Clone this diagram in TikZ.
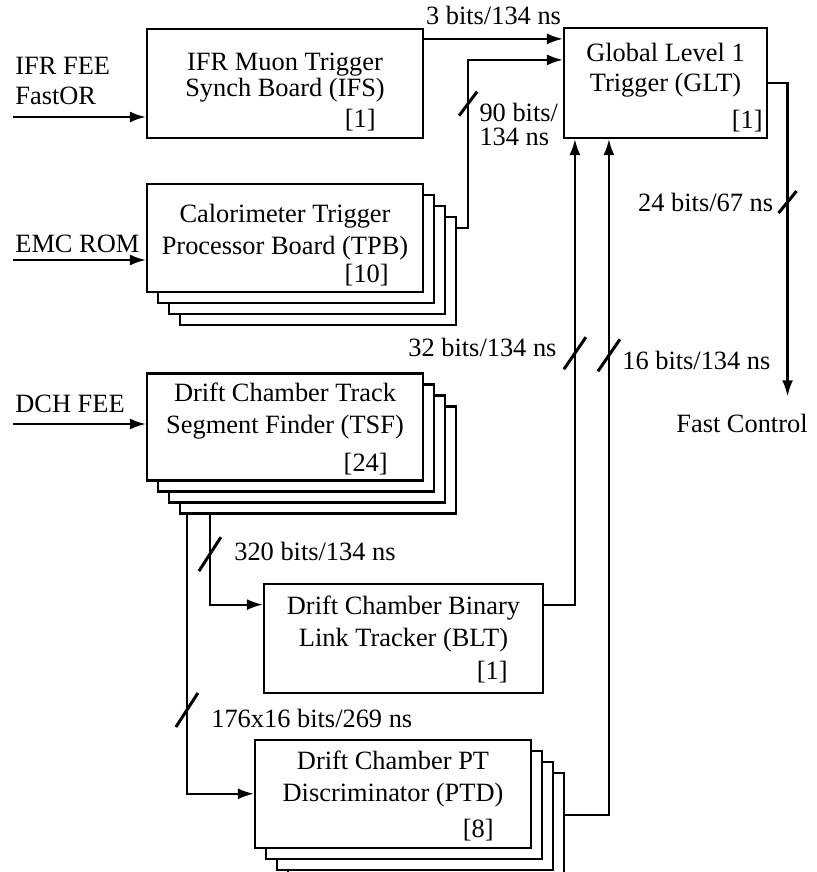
\documentclass[tikz,border=0pt]{standalone}
\usepackage{fontspec}
\setmainfont{Liberation Serif}
\usetikzlibrary{arrows.meta, positioning, calc, shadows}

\begin{document}
\begin{tikzpicture}[
  x=0.5pt, y=-0.5pt,
  font=\fontsize{13.2}{16}\selectfont,
  board/.style={rectangle, draw, fill=white, line width=1.1pt, align=center,
    minimum width=138pt, minimum height=54pt, inner sep=0pt,
    text height=19pt, text depth=3pt},
  stack/.style={copy shadow={shadow xshift=16.5pt, shadow yshift=-16.5pt},
    copy shadow={shadow xshift=11pt, shadow yshift=-11pt},
    copy shadow={shadow xshift=5.5pt, shadow yshift=-5.5pt}},
  count/.style={anchor=base east, inner sep=0pt},
  src/.style={inner sep=1pt, align=left},
  bus/.style={inner sep=1pt, align=left},
  arr/.style={-{Latex[length=8pt, width=5.5pt]}, line width=1.1pt},
  slash/.style={line width=1.5pt},
]
  \useasboundingbox (0,0) rectangle (817,872);

  % trigger boards
  \node[board, minimum height=54.5pt, text height=16.5pt,
    font=\fontsize{13.2}{13}\selectfont] (ifs) at (285,83.5)
    {IFR Muon Trigger\\Synch Board (IFS)};
  \node[board, stack, below=22pt of ifs] (tpb)
    {Calorimeter Trigger\\Processor Board (TPB)};
  \node[board, stack, minimum height=53.5pt, text height=9.5pt,
    below=39.5pt of tpb] (tsf)
    {Drift Chamber Track\\Segment Finder (TSF)};
  \node[board, minimum width=139.5pt, minimum height=54.5pt, text height=11.5pt,
    below right=50.5pt and 58.5pt of tsf.south west] (blt)
    {Drift Chamber Binary\\Link Tracker (BLT)};
  \node[board, stack, text height=11pt,
    below right=22.5pt and -4.5pt of blt.south west] (ptd)
    {Drift Chamber PT\\Discriminator (PTD)};
  \node[board, minimum width=101.5pt, minimum height=55pt, text height=11pt,
    font=\fontsize{13.2}{15}\selectfont] (glt) at (665.5,83)
    {Global Level 1\\Trigger (GLT)};

  % number of boards
  \node[count] (ifsn) at ($(ifs.south east)+(-48,-12)$) {[1]};
  \node[count] (tpbn) at ($(tpb.south east)+(-35,-11)$) {[10]};
  \node[count] (tsfn) at ($(tsf.south east)+(-36,-10)$) {[24]};
  \node[count] (bltn) at ($(blt.south east)+(-36,-14)$) {[1]};
  \node[count] (ptdn) at ($(ptd.south east)+(-38,-11)$) {[8]};
  \node[count] (gltn) at ($(glt.south east)+(-5,-11)$) {[1]};

  % inputs and output
  \coordinate (ifrsrc) at (13,117);
  \coordinate (emcsrc) at (13,260);
  \coordinate (dchsrc) at (13,424);
  \node[src, font=\fontsize{13.2}{15}\selectfont, above right=5pt and 0pt of ifrsrc] (ifrin)
    {IFR FEE\\FastOR};
  \node[src, above right=2.5pt and 0pt of emcsrc] (emcin) {EMC ROM};
  \node[src, above right=4.5pt and 0pt of dchsrc] (dchin) {DCH FEE};
  \node[anchor=base, inner sep=1pt] (fc) at (742,432) {Fast Control};

  \draw[arr] (ifrsrc) -- (ifrsrc -| ifs.west);
  \draw[arr] (emcsrc) -- (emcsrc -| tpb.west);
  \draw[arr] (dchsrc) -- (dchsrc -| tsf.west);

  % links into the GLT
  \draw[arr] ([yshift=-5.5pt]ifs.north east) coordinate (ifsout)
    -- node[bus, above=5.5pt] {3 bits/134 ns} (ifsout -| glt.west);
  \draw[arr] ($(tpb.east)+(33,-10)$) -- ++(11,0)
    |- node[pos=0.37, coordinate] (s90) {} ([yshift=-16.5pt]glt.north west);
  \draw[arr] ([yshift=16.75pt]blt.east)
    -| node[pos=0.77, coordinate] (s32) {} ([xshift=6pt]glt.south west);
  \draw[arr] ($(ptd.east)+(33,21)$)
    -| node[pos=0.84, coordinate] (s16) {} ([xshift=23pt]glt.south west);
  \draw[arr] (glt.east)
    -| node[pos=0.69, coordinate] (s24) {} ($(fc.north east)+(-22.5,-15)$);

  % TSF fan-out
  \draw[arr] ($(tsf.south west)+(64,33)$)
    |- node[pos=0.22, coordinate] (s320) {} ([yshift=16.75pt]blt.west);
  \draw[arr] ($(tsf.south west)+(41,33)$)
    |- node[pos=0.35, coordinate] (s176) {} (ptd.west);

  % bus widths
  \draw[slash] (s90) +(-9,12) -- +(9,-12);
  \draw[slash] (s24) +(-9,11) -- +(9,-11);
  \draw[slash] (s32) +(-11,16) -- +(11,-16);
  \draw[slash] (s16) +(-11,16) -- +(11,-16);
  \draw[slash] (s320) +(-11,17) -- +(11,-17);
  \draw[slash] (s176) +(-11,17) -- +(11,-17);

  \node[bus, font=\fontsize{13.2}{12}\selectfont, anchor=north west] (l90)
    at ($(s90)+(9,-3)$) {90 bits/\\134 ns};
  \node[bus, left=6pt of s24] (l24) {24 bits/67 ns};
  \node[bus, left=8pt of s32, yshift=3pt] (l32) {32 bits/134 ns};
  \node[bus, right=5.5pt of s16, yshift=-2.5pt] (l16) {16 bits/134 ns};
  \node[bus, right=11pt of s320, yshift=1.5pt] (l320) {320 bits/134 ns};
  \node[bus, right=11pt of s176, yshift=-4pt] (l176) {176x16 bits/269 ns};
\end{tikzpicture}
\end{document}
